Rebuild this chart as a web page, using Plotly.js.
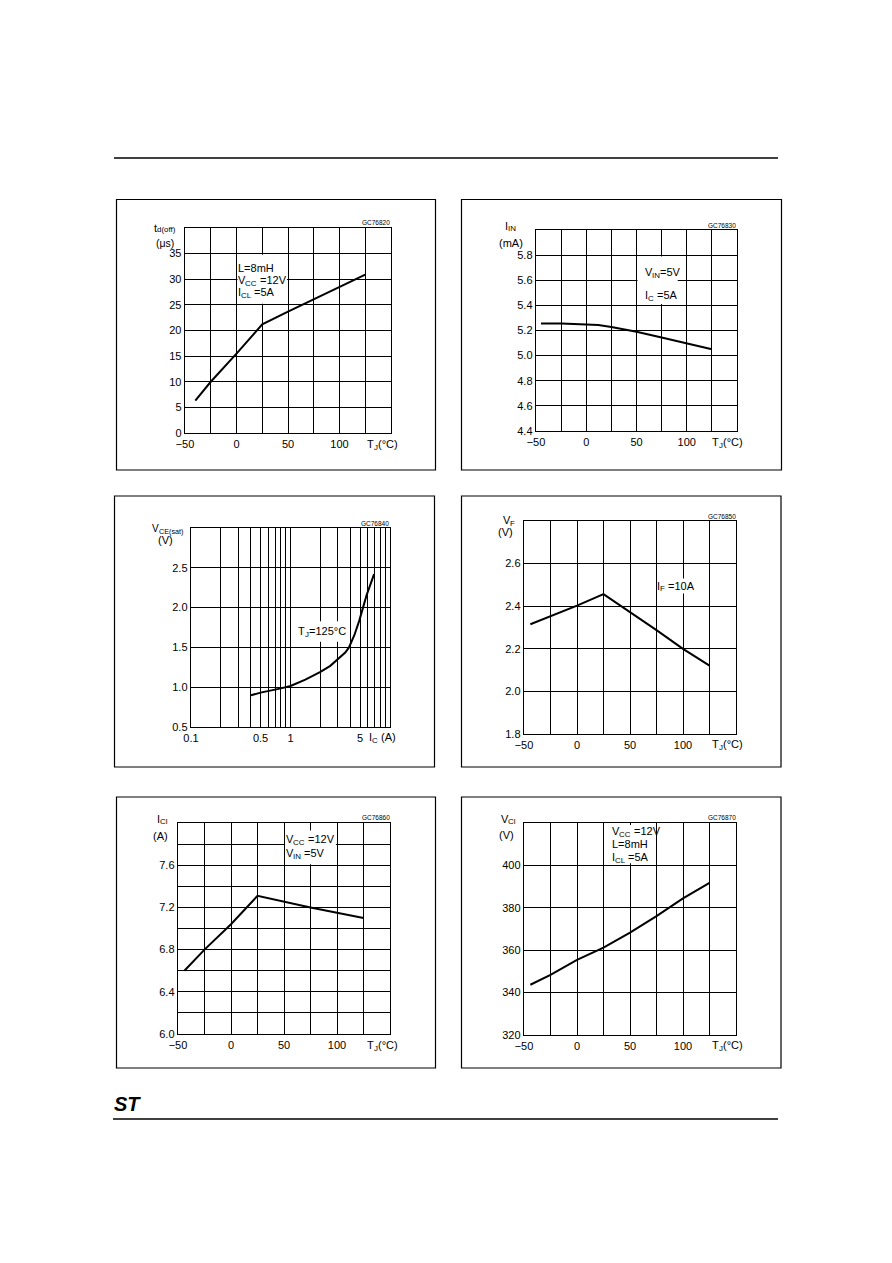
<!DOCTYPE html>
<html>
<head>
<meta charset="utf-8">
<script src="https://cdn.plot.ly/plotly-3.0.1.min.js"></script>
<style>html,body{margin:0;padding:0;background:#fff;}#chart{width:892px;height:1263px;}</style>
</head>
<body>
<div id="chart"></div>
<script>
// ---------- DATA ----------
// Panel 1: td(off) vs Tj
const tj1 = [-40, -25, 0, 25, 50, 75, 100, 125];
const tdoff = [6.3, 10, 15.5, 21.2, 23.7, 26.1, 28.5, 30.9];
// Panel 2: IIN vs Tj
const tj2 = [-45, -25, 0, 12, 25, 50, 75, 100, 125];
const iin = [5.255, 5.255, 5.248, 5.243, 5.228, 5.19, 5.145, 5.1, 5.05];
// Panel 3: VCE(sat) vs IC (log)
const ic3 = [0.4, 0.5, 0.78, 1.0, 1.41, 2.0, 2.51, 3.0, 3.55, 3.87, 4.38, 4.92, 5.82, 6.92];
const vcesat = [0.898, 0.932, 0.982, 1.016, 1.096, 1.192, 1.268, 1.36, 1.435, 1.5, 1.653, 1.84, 2.157, 2.42];
// Panel 4: VF vs Tj
const tj4 = [-44, 0, 25, 50, 75, 100, 125];
const vf = [2.315, 2.403, 2.457, 2.374, 2.288, 2.2, 2.121];
// Panel 5: ICl vs Tj
const tj5 = [-44, -25, 0, 25, 75, 125];
const icl = [6.6, 6.8, 7.04, 7.31, 7.2, 7.1];
// Panel 6: VCl vs Tj
const tj6 = [-44, -25, 0, 25, 50, 75, 100, 125];
const vcl = [343.7, 348.4, 355.4, 361.2, 368.3, 376.1, 384.4, 391.8];

// Tick labels
const tjTicks = [-50, 0, 50, 100];
const tjText = ['\u221250', '0', '50', '100'];
const tjGrid = [-50, -25, 0, 25, 50, 75, 100, 125, 150];
const y1Ticks = [0, 5, 10, 15, 20, 25, 30, 35];
const y1Grid = [0, 5, 10, 15, 20, 25, 30, 35, 40];
const y2Ticks = [4.4, 4.6, 4.8, 5.0, 5.2, 5.4, 5.6, 5.8];
const y2Text = ['4.4', '4.6', '4.8', '5.0', '5.2', '5.4', '5.6', '5.8'];
const y2Grid = [4.4, 4.6, 4.8, 5.0, 5.2, 5.4, 5.6, 5.8, 6.0];
const x3Ticks = [0.1, 0.5, 1, 5];
const x3Text = ['0.1', '0.5', '1', '5'];
const x3Grid = [0.1, 0.2, 0.3, 0.4, 0.5, 0.6, 0.7, 0.8, 0.9, 1, 2, 3, 4, 5, 6, 7, 8, 9, 10];
const y3Ticks = [0.5, 1.0, 1.5, 2.0, 2.5];
const y3Text = ['0.5', '1.0', '1.5', '2.0', '2.5'];
const y3Grid = [0.5, 1.0, 1.5, 2.0, 2.5, 3.0];
const y4Ticks = [1.8, 2.0, 2.2, 2.4, 2.6];
const y4Text = ['1.8', '2.0', '2.2', '2.4', '2.6'];
const y4Grid = [1.8, 2.0, 2.2, 2.4, 2.6, 2.8];
const y5Ticks = [6.0, 6.4, 6.8, 7.2, 7.6];
const y5Text = ['6.0', '6.4', '6.8', '7.2', '7.6'];
const y5Grid = [6.0, 6.2, 6.4, 6.6, 6.8, 7.0, 7.2, 7.4, 7.6, 7.8, 8.0];
const y6Ticks = [320, 340, 360, 380, 400];
const y6Grid = [320, 340, 360, 380, 400, 420];

// ---------- LAYOUT HELPERS ----------
const W = 892, H = 1263;
const F = 'Liberation Sans, Arial, sans-serif';
const BLACK = '#000';
function px(x) { return x / W; }
function py(y) { return 1 - y / H; }

const ctx = document.createElement('canvas').getContext('2d');
function tw(text, size) { ctx.font = size + 'px "Liberation Sans"'; return ctx.measureText(text).width; }

function axis(d0, d1, anchor, range, tv, tt, grid, extra) {
  return Object.assign({
    domain: [d0, d1], anchor: anchor, range: range,
    tickmode: 'array', tickvals: tv, ticktext: tt || tv.map(String),
    showgrid: true, gridcolor: BLACK, gridwidth: 1,
    minor: { tickmode: 'array', tickvals: grid, showgrid: true, gridcolor: BLACK, gridwidth: 1, ticks: '' },
    showline: true, linecolor: BLACK, linewidth: 1.3, mirror: true,
    zeroline: false, ticks: '', fixedrange: true,
    tickfont: { family: F, size: 11, color: BLACK }
  }, extra || {});
}
function xax(l, r, anchor, range, tv, tt, grid, extra) { return axis(px(l), px(r), anchor, range, tv, tt, grid, extra); }
function yax(t, b, anchor, range, tv, tt, grid, extra) { return axis(py(b), py(t), anchor, range, tv, tt, grid, extra); }

function ann(x, y, text, size, anchor) {
  return { xref: 'paper', yref: 'paper', x: px(x), y: py(y), text: text, showarrow: false,
    xanchor: anchor || 'left', yanchor: 'middle', borderpad: 0, borderwidth: 0,
    font: { family: F, size: size || 11, color: BLACK } };
}
// label built of plain and subscript pieces: parts = [[text, isSub], ...]
function lab(x, y, parts, size, subDy) {
  size = size || 11;
  subDy = (subDy === undefined) ? 3 : subDy;
  const out = [];
  let cx = x;
  parts.forEach(function (p) {
    let t = p[0];
    const sub = p[1];
    const s = sub ? size * 0.72 : size;
    while (t.charAt(0) === ' ') { cx += tw(' ', s); t = t.slice(1); }
    if (!t) return;
    out.push(ann(cx, sub ? y + subDy : y, t, s));
    cx += tw(t, s);
  });
  return out;
}
function box(l, t, r, b) {
  return { type: 'rect', xref: 'paper', yref: 'paper', x0: px(l), x1: px(r), y0: py(b), y1: py(t),
    line: { color: BLACK, width: 1.2 }, fillcolor: 'rgba(0,0,0,0)' };
}
function hline(x0, x1, y) {
  return { type: 'line', xref: 'paper', yref: 'paper', x0: px(x0), x1: px(x1), y0: py(y), y1: py(y),
    line: { color: BLACK, width: 1.3 } };
}
function cell(xr, yr, x0, x1, y0, y1) {
  return { type: 'rect', xref: xr, yref: yr, x0: x0, x1: x1, y0: y0, y1: y1, layer: 'between',
    line: { width: 0 }, fillcolor: '#fff' };
}
function line(x, y, xa, ya) {
  return { x: x, y: y, xaxis: xa, yaxis: ya, type: 'scatter', mode: 'lines',
    line: { color: BLACK, width: 2 }, hoverinfo: 'skip' };
}

const data = [
  line(tj1, tdoff, 'x', 'y'),
  line(tj2, iin, 'x2', 'y2'),
  line(ic3, vcesat, 'x3', 'y3'),
  line(tj4, vf, 'x4', 'y4'),
  line(tj5, icl, 'x5', 'y5'),
  line(tj6, vcl, 'x6', 'y6')
];

const TJ = [['T', 0], ['J', 1], ['(\u00b0C)', 0]];
const annotations = [].concat(
  // Panel 1
  lab(154, 228, [['t', 0], ['d(off)', 1]], 11, 1.5),
  [ann(156, 243, '(\u03bcs)', 10.5), ann(390, 223, 'GC76820', 6.5, 'right')],
  lab(238, 268, [['L=8mH', 0]]),
  lab(238, 280, [['V', 0], ['CC', 1], [' =12V', 0]]),
  lab(238, 292, [['I', 0], ['CL', 1], [' =5A', 0]]),
  lab(367, 444, TJ),
  // Panel 2
  lab(505, 226, [['I', 0], ['IN', 1]]),
  [ann(499, 243, '(mA)'), ann(736, 226, 'GC76830', 6.5, 'right')],
  lab(645, 272, [['V', 0], ['IN', 1], ['=5V', 0]]),
  lab(645, 295, [['I', 0], ['C', 1], [' =5A', 0]]),
  lab(712, 442, TJ),
  // Panel 3
  lab(152, 528, [['V', 0], ['CE(sat)', 1]], 10),
  [ann(158, 540, '(V)'), ann(389, 523, 'GC76840', 6.5, 'right')],
  lab(298, 631, [['T', 0], ['J', 1], ['=125\u00b0C', 0]]),
  lab(369, 737, [['I', 0], ['C', 1], [' (A)', 0]]),
  // Panel 4
  lab(503, 520, [['V', 0], ['F', 1]]),
  [ann(498, 532, '(V)'), ann(736, 516, 'GC76850', 6.5, 'right')],
  lab(657, 586, [['I', 0], ['F', 1], [' =10A', 0]]),
  lab(712, 744, TJ),
  // Panel 5
  lab(157, 819, [['I', 0], ['Cl', 1]]),
  [ann(153, 836, '(A)'), ann(390, 817, 'GC76860', 6.5, 'right')],
  lab(286, 839, [['V', 0], ['CC', 1], [' =12V', 0]]),
  lab(286, 853, [['V', 0], ['IN', 1], [' =5V', 0]]),
  lab(367, 1045, TJ),
  // Panel 6
  lab(501, 819, [['V', 0], ['Cl', 1]]),
  [ann(499, 835, '(V)'), ann(736, 817, 'GC76870', 6.5, 'right')],
  lab(612, 831, [['V', 0], ['CC', 1], [' =12V', 0]]),
  lab(612, 844, [['L=8mH', 0]]),
  lab(612, 857, [['I', 0], ['CL', 1], [' =5A', 0]]),
  lab(712, 1045, TJ),
  // Logo
  [ann(114, 1104, '<b><i>ST</i></b>', 20)]
);

const layout = {
  width: W, height: H, margin: { l: 0, r: 0, t: 0, b: 0 },
  paper_bgcolor: '#fff', plot_bgcolor: '#fff', showlegend: false,
  font: { family: F, color: BLACK },
  xaxis:  xax(185, 391, 'y',  [-50, 150], tjTicks, tjText, tjGrid),
  yaxis:  yax(228, 433, 'x',  [0, 40], y1Ticks, null, y1Grid),
  xaxis2: xax(536, 737, 'y2', [-50, 150], tjTicks, tjText, tjGrid),
  yaxis2: yax(230, 431, 'x2', [4.4, 6.0], y2Ticks, y2Text, y2Grid),
  xaxis3: xax(191, 390, 'y3', [-1, 1], x3Ticks, x3Text, x3Grid, { type: 'log' }),
  yaxis3: yax(528, 727, 'x3', [0.5, 3.0], y3Ticks, y3Text, y3Grid),
  xaxis4: xax(524, 736, 'y4', [-50, 150], tjTicks, tjText, tjGrid),
  yaxis4: yax(521, 734, 'x4', [1.8, 2.8], y4Ticks, y4Text, y4Grid),
  xaxis5: xax(178, 390, 'y5', [-50, 150], tjTicks, tjText, tjGrid),
  yaxis5: yax(823, 1034, 'x5', [6.0, 8.0], y5Ticks, y5Text, y5Grid),
  xaxis6: xax(524, 736, 'y6', [-50, 150], tjTicks, tjText, tjGrid),
  yaxis6: yax(823, 1035, 'x6', [320, 420], y6Ticks, null, y6Grid),
  shapes: [
    hline(114, 778, 158),
    hline(113, 778, 1119),
    box(116.5, 199.5, 435.5, 470),
    box(461.5, 199.5, 781.5, 470),
    box(114.5, 496, 434.5, 767),
    box(461.5, 496, 781, 767),
    box(116.5, 797, 435.5, 1068),
    box(461.5, 797, 781, 1068),
    cell('x', 'y', 1, 49, 25.2, 34.8),
    cell('x2', 'y2', 51, 91, 5.41, 5.79),
    cell('x3', 'y3', 1.1, 3.7, 1.57, 1.83),
    cell('x4', 'y4', 76, 117, 2.46, 2.53),
    cell('x5', 'y5', 51, 99, 7.61, 7.93),
    cell('x6', 'y6', 26, 74, 401, 419)
  ],
  annotations: annotations
};

Plotly.newPlot('chart', data, layout, { staticPlot: true, displayModeBar: false });
</script>
</body>
</html>
